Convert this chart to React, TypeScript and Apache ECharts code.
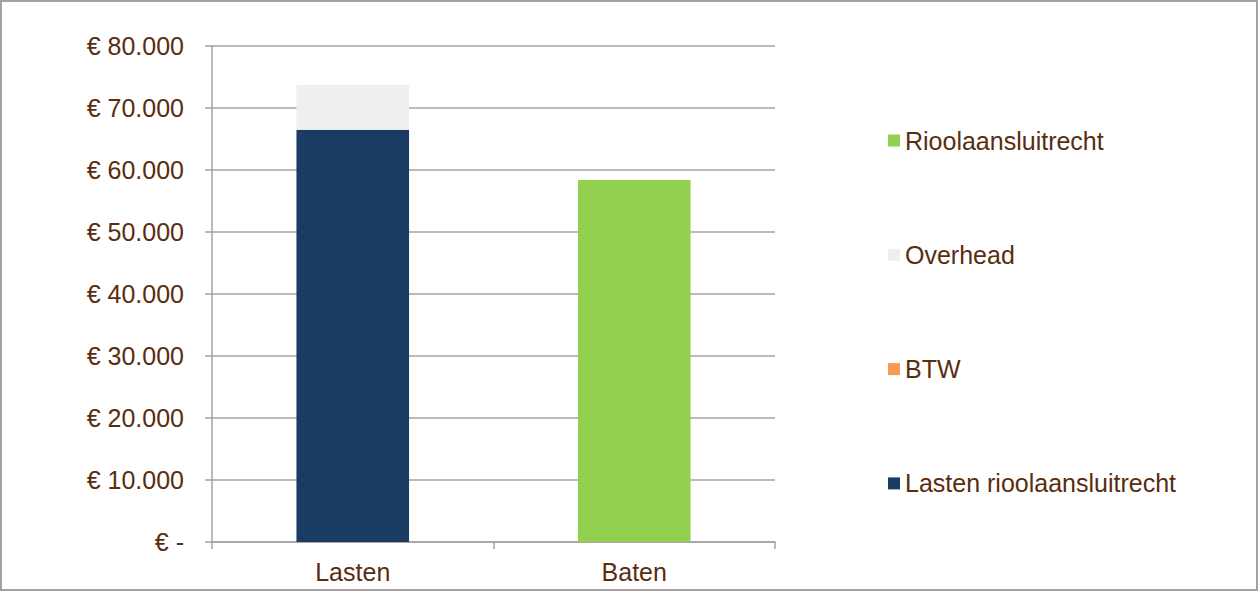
import React, { useEffect, useRef } from "react";
import * as echarts from "echarts";

const categories = ["Lasten", "Baten"];
const lastenRiool = [66500, 0];
const btw = [0, 0];
const overhead = [7200, 0];
const rioolaansluitrecht = [0, 58400];
const legendOrder = ["Rioolaansluitrecht", "Overhead", "BTW", "Lasten rioolaansluitrecht"];

const TEXT = "#5a2d0e";
const GRID = "#a8a0a0";

function fmt(v: number) {
  if (v === 0) return "€ -";
  return "€ " + v.toString().replace(/\B(?=(\d{3})+(?!\d))/g, ".");
}

export default function App() {
  const ref = useRef<HTMLDivElement>(null);
  useEffect(() => {
    const chart = echarts.init(ref.current!, undefined, { renderer: "svg" });
    const font = "'Liberation Sans', Arial, sans-serif";
    chart.setOption({
      animation: false,
      textStyle: { fontFamily: font },
      grid: { left: 212, right: 483, top: 46, bottom: 49 },
      legend: {
        orient: "vertical",
        left: 883,
        top: 123,
        itemWidth: 12,
        itemHeight: 12,
        itemGap: 89.3,
        icon: "rect",
        data: legendOrder,
        textStyle: { color: TEXT, fontSize: 25, fontFamily: font, lineHeight: 24, padding: [0, 0, 0, 0] },
      },
      xAxis: {
        type: "category",
        data: categories,
        axisLine: { lineStyle: { color: GRID, width: 1.5 } },
        axisTick: { show: true, length: 7, lineStyle: { color: GRID, width: 1.5 } },
        axisLabel: { color: TEXT, fontSize: 25, margin: 17, fontFamily: font },
      },
      yAxis: {
        type: "value",
        min: 0,
        max: 80000,
        interval: 10000,
        axisLine: { show: true, lineStyle: { color: GRID, width: 1.5 } },
        axisTick: { show: true, length: 7, lineStyle: { color: GRID, width: 1.5 } },
        splitLine: { lineStyle: { color: GRID, width: 1.5 } },
        axisLabel: { color: TEXT, fontSize: 25, margin: 28, fontFamily: font, formatter: (v: number) => fmt(v) },
      },
      series: [
        { name: "Lasten rioolaansluitrecht", type: "bar", stack: "a", data: lastenRiool, barWidth: "40%", itemStyle: { color: "#1b3c62" } },
        { name: "BTW", type: "bar", stack: "a", data: btw, itemStyle: { color: "#f79a56" } },
        { name: "Overhead", type: "bar", stack: "a", data: overhead, itemStyle: { color: "#efefef" } },
        { name: "Rioolaansluitrecht", type: "bar", stack: "a", data: rioolaansluitrecht, itemStyle: { color: "#92d050" } },
      ],
    });
    return () => chart.dispose();
  }, []);
  return (
    <div
      style={{
        position: "fixed",
        left: 0,
        top: 0,
        width: 1258,
        height: 591,
        boxSizing: "border-box",
        border: "2px solid #a8a0a0",
        background: "#fff",
      }}
    >
      <div ref={ref} style={{ position: "absolute", left: -2, top: -2, width: 1258, height: 591 }} />
    </div>
  );
}
